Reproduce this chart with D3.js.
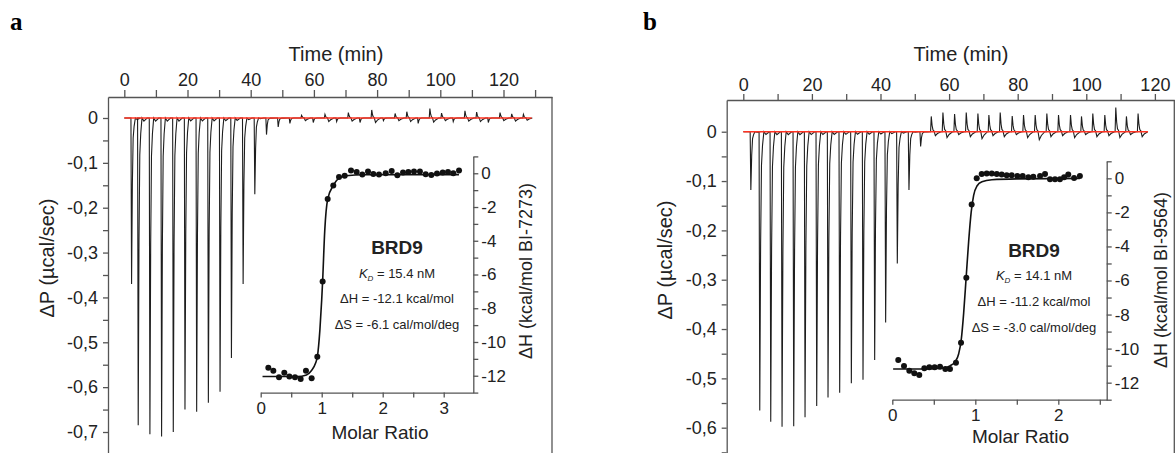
<!DOCTYPE html>
<html lang="en">
<head>
<meta charset="utf-8" />
<title>ITC BRD9</title>
<script src="https://cdn.jsdelivr.net/npm/d3@7"></script>
<style>
  body { margin: 0; background: #fff; }
  svg text { font-family: "Liberation Sans", Arial, sans-serif; fill: #222; }
  .ax path, .ax line { stroke: #555; stroke-width: 1.3; }
</style>
</head>
<body>
<svg width="1176" height="453"></svg>
<script>
// panel a : BI-7273, raw thermogram (injection time in min, peak height and undershoot in ucal/sec)
var timeA = [2.1, 4.2, 7.9, 11.6, 15.3, 19.0, 22.7, 26.4, 30.1, 33.7, 37.4, 41.1, 44.8, 48.5, 52.2, 55.9, 59.6, 63.3,
  67.0, 70.7, 74.4, 78.1, 81.8, 85.5, 89.2, 92.8, 96.5, 100.2, 103.9, 107.6, 111.3, 115.0, 118.7, 122.4, 126.1];
var peakA = [-0.37, -0.685, -0.705, -0.71, -0.70, -0.65, -0.655, -0.635, -0.61, -0.535, -0.37, -0.17, -0.037, -0.02,
  -0.012, 0.006, -0.01, 0.008, -0.008, 0.012, -0.01, 0.018, -0.006, 0.01, 0.014, -0.012, 0.021, 0.011, -0.008,
  0.016, 0.013, -0.01, 0.012, 0.009, 0.008];
var dipA = [0, 0, 0, 0, 0, 0, 0, 0, 0, 0, 0, 0, 0, 0, 0, -0.006, 0, -0.008, 0, -0.007, 0, -0.01, 0, -0.006, -0.008, 0,
  -0.009, -0.006, 0, -0.007, -0.008, 0, -0.006, -0.007, -0.005];
// panel a : integrated heats
var ratioA = [0.125, 0.207, 0.3, 0.387, 0.47, 0.562, 0.655, 0.742, 0.835, 0.928, 1.015, 1.098, 1.19, 1.284, 1.377,
  1.48, 1.573, 1.666, 1.759, 1.846, 1.939, 2.049, 2.147, 2.24, 2.333, 2.42, 2.513, 2.61, 2.705, 2.797, 2.89, 2.984,
  3.07, 3.157, 3.251];
var heatA = [-11.52, -11.7, -12.09, -11.82, -12.05, -12.09, -12.19, -11.7, -12.15, -10.87, -6.42, -1.52, -0.73, -0.22,
  -0.14, 0.16, 0.08, -0.08, 0.1, -0.04, -0.08, 0.0, 0.14, -0.12, 0.04, 0.08, 0.1, 0.1, -0.06, -0.1, -0.02, 0.04,
  0.08, 0.0, 0.16];
var fitRatioA = [0.03, 0.6, 0.75, 0.83, 0.9, 0.93, 0.97, 1.0, 1.015, 1.05, 1.1, 1.19, 1.28, 1.4, 1.7, 3.25];
var fitHeatA = [-12.05, -12.05, -11.95, -11.7, -11.25, -10.85, -9.3, -7.5, -6.4, -3.4, -1.5, -0.73, -0.3, -0.15, -0.09, -0.08];

// panel b : BI-9564
var timeB = [2.0, 4.6, 7.8, 11.1, 14.5, 17.8, 21.2, 24.5, 27.9, 31.3, 34.7, 38.1, 41.3, 44.7, 48.1, 51.5, 54.6, 58.0,
  61.4, 64.8, 68.2, 71.4, 74.7, 78.2, 81.5, 84.9, 88.3, 91.7, 95.2, 98.4, 101.7, 105.2, 108.4, 111.5, 114.9];
var peakB = [-0.118, -0.565, -0.588, -0.598, -0.597, -0.579, -0.556, -0.539, -0.529, -0.51, -0.503, -0.463, -0.387,
  -0.267, -0.118, -0.03, 0.031, 0.039, 0.036, 0.039, 0.037, 0.034, 0.039, 0.032, 0.034, 0.034, 0.037, 0.034, 0.034,
  0.031, 0.037, 0.034, 0.049, 0.031, 0.037];
var dipB = [0, 0, 0, 0, 0, 0, 0, 0, 0, 0, 0, 0, 0, 0, 0, 0, -0.008, -0.012, -0.006, -0.01, -0.014, -0.008, -0.01,
  -0.006, -0.012, -0.016, -0.01, -0.008, -0.012, -0.006, -0.01, -0.008, -0.012, -0.006, -0.01];
var ratioB = [0.072, 0.141, 0.205, 0.265, 0.325, 0.386, 0.446, 0.51, 0.575, 0.639, 0.695, 0.767, 0.828, 0.892, 0.956,
  1.017, 1.077, 1.137, 1.198, 1.258, 1.318, 1.378, 1.438, 1.506, 1.571, 1.639, 1.699, 1.78, 1.84, 1.9, 1.96, 2.02,
  2.07, 2.12, 2.19, 2.26];
var heatB = [-10.67, -11.02, -11.3, -11.45, -11.55, -11.16, -11.1, -11.1, -11.06, -11.2, -11.2, -10.83, -9.65, -5.84,
  -1.53, 0.0, 0.25, 0.29, 0.29, 0.25, 0.22, 0.18, 0.18, 0.14, 0.14, 0.06, 0.1, 0.14, 0.25, -0.06, -0.06, -0.06, 0.06,
  0.22, 0.02, 0.14];
var fitRatioB = [0.01, 0.3, 0.6, 0.7, 0.76, 0.8, 0.83, 0.86, 0.89, 0.92, 0.95, 0.98, 1.02, 1.08, 1.2, 1.5, 2.26];
var fitHeatB = [-11.2, -11.2, -11.15, -11.0, -10.75, -10.3, -9.5, -7.9, -5.8, -3.7, -2.0, -1.0, -0.45, -0.2, -0.08, -0.03, 0];

// ticks
var timeTicksA = [0, 10, 20, 30, 40, 50, 60, 70, 80, 90, 100, 110, 120, 130];
var timeTicksB = [0, 10, 20, 30, 40, 50, 60, 70, 80, 90, 100, 110, 120];
var dpTicksA = [0, -0.05, -0.1, -0.15, -0.2, -0.25, -0.3, -0.35, -0.4, -0.45, -0.5, -0.55, -0.6, -0.65, -0.7, -0.75];
var dpTicksB = [0, -0.05, -0.1, -0.15, -0.2, -0.25, -0.3, -0.35, -0.4, -0.45, -0.5, -0.55, -0.6, -0.65];
var dhTicks = [1, 0, -1, -2, -3, -4, -5, -6, -7, -8, -9, -10, -11, -12, -13];
var ratioTicksA = [0, 0.5, 1, 1.5, 2, 2.5, 3];
var ratioTicksB = [0, 0.5, 1, 1.5, 2, 2.5];

var svg = d3.select("svg");

// shape of one injection: [minutes after injection, share of peak, share of undershoot]
var peakShape = [[0, 0, 0], [0.2, 1, 0], [0.45, 0.4, 0], [0.7, 0.12, 0], [1.0, 0.05, 0], [1.4, 0, 1],
  [2.0, 0.01, 0.5], [3.0, 0, 0]];

function comma(v) {
  return v === 0 ? "0" : d3.format(".1f")(v).replace(".", ",").replace("\u2212", "-");
}
function isTenth(v) { return Math.abs(v * 10 - Math.round(v * 10)) < 1e-6; }

function panel(p) {
  var g = svg.append("g");
  var x = d3.scaleLinear().domain(p.tDom).range([p.left, p.right]);
  var y = d3.scaleLinear().domain(p.pDom).range([p.top, 460]);

  g.append("g").attr("class", "ax").attr("transform", "translate(0," + p.top + ")")
    .call(d3.axisTop(x).tickValues(p.tTicks).tickSize(p.tTick).tickSizeOuter(0).tickPadding(p.tPad)
      .tickFormat(function (d) { return d % 20 === 0 ? d : ""; }))
    .selectAll("text").style("font-size", "18px");

  g.append("g").attr("class", "ax").attr("transform", "translate(" + p.left + ",0)")
    .call(d3.axisLeft(y).tickValues(p.pTicks).tickSize(5).tickSizeOuter(0).tickPadding(p.pPad)
      .tickFormat(function (d) { return isTenth(d) ? comma(d) : ""; }))
    .selectAll("text").style("font-size", "18px");

  g.append("line").attr("x1", p.right).attr("x2", p.right).attr("y1", p.top).attr("y2", 460)
    .attr("stroke", "#555").attr("stroke-width", 1.3);

  // raw trace
  var pts = [[0, 0]];
  p.times.forEach(function (t, i) {
    peakShape.forEach(function (s) { pts.push([t + s[0], s[1] * p.peaks[i] + s[2] * p.dips[i]]); });
  });
  pts.push([p.tEnd, 0]);
  g.append("path").datum(pts)
    .attr("d", d3.line().x(function (d) { return x(d[0]); }).y(function (d) { return y(d[1]); }))
    .attr("fill", "none").attr("stroke", "#1e1e1e").attr("stroke-width", 1.1);

  g.append("line").attr("x1", x(0)).attr("x2", x(p.tEnd)).attr("y1", y(0)).attr("y2", y(0))
    .attr("stroke", "#ff3322").attr("stroke-width", 1.5);

  g.append("text").attr("x", p.labelX).attr("y", 30).text(p.label)
    .style("font-family", "'Liberation Serif', 'Times New Roman', serif").style("font-weight", "bold")
    .style("font-size", "25px").style("fill", "#000");

  g.append("text").attr("x", p.timeTitle[0]).attr("y", p.timeTitle[1]).attr("text-anchor", "middle")
    .style("font-size", "20px").text("Time (min)");

  g.append("text").attr("transform", "translate(" + p.yTitle[0] + "," + p.yTitle[1] + ") rotate(-90)")
    .attr("text-anchor", "middle").attr("dy", "0.35em").style("font-size", "20px").text("\u0394P (\u00b5cal/sec)");

  // inset isotherm
  var ix = d3.scaleLinear().domain(p.rDom).range([p.iLeft, p.iRight]);
  var iy = d3.scaleLinear().domain([1, -13]).range([p.iTop, p.iBottom]);

  g.append("g").attr("class", "ax").attr("transform", "translate(0," + p.iBottom + ")")
    .call(d3.axisBottom(ix).tickValues(p.rTicks).tickSize(5).tickSizeOuter(0).tickPadding(4)
      .tickFormat(function (d) { return Number.isInteger(d) ? String(d) : ""; }))
    .selectAll("text").style("font-size", "17px");

  g.append("g").attr("class", "ax").attr("transform", "translate(" + p.iRight + ",0)")
    .call(d3.axisRight(iy).tickValues(dhTicks).tickSize(5).tickSizeOuter(0).tickPadding(3)
      .tickFormat(function (d) { return (d <= 0 && d % 2 === 0) ? String(d) : ""; }))
    .selectAll("text").style("font-size", "17px");

  var fit = p.fitR.map(function (r, i) { return [r, p.fitH[i]]; });
  g.append("path").datum(fit)
    .attr("d", d3.line().curve(d3.curveMonotoneX)
      .x(function (d) { return ix(d[0]); }).y(function (d) { return iy(d[1]); }))
    .attr("fill", "none").attr("stroke", "#111").attr("stroke-width", 1.6);

  g.selectAll("circle.pt").data(p.ratio).enter().append("circle")
    .attr("cx", function (d) { return ix(d); })
    .attr("cy", function (d, i) { return iy(p.heat[i]); })
    .attr("r", 3).attr("fill", "#111");

  g.append("text").attr("x", (p.iLeft + p.iRight) / 2 + p.molarDx).attr("y", p.molarY).attr("text-anchor", "middle")
    .style("font-size", "19px").text("Molar Ratio");

  g.append("text").attr("transform", "translate(" + p.iTitle[0] + "," + p.iTitle[1] + ") rotate(-90)")
    .attr("text-anchor", "middle").attr("dy", "0.35em").style("font-size", "18px")
    .text("\u0394H (kcal/mol " + p.compound + ")");

  var cx = p.textX;
  g.append("text").attr("x", cx).attr("y", p.textY[0]).attr("text-anchor", "middle")
    .style("font-size", "19px").style("font-weight", "bold").text("BRD9");
  var kd = g.append("text").attr("x", cx).attr("y", p.textY[1]).attr("text-anchor", "middle").style("font-size", "13px");
  kd.append("tspan").style("font-style", "italic").text("K");
  kd.append("tspan").style("font-style", "italic").style("font-size", "8px").attr("dy", 3).text("D");
  kd.append("tspan").attr("dy", -3).text(" = " + p.kd);
  g.append("text").attr("x", cx).attr("y", p.textY[2]).attr("text-anchor", "middle").style("font-size", "13px")
    .text("\u0394H = " + p.dh);
  g.append("text").attr("x", cx).attr("y", p.textY[3]).attr("text-anchor", "middle").style("font-size", "13px")
    .text("\u0394S = " + p.ds);
}

panel({
  label: "a", labelX: 10, compound: "BI-7273",
  left: 108, right: 552, top: 97, tDom: [-5.16, 135.35], pDom: [0.0468, -0.7624],
  tTicks: timeTicksA, tTick: 7, tPad: 4, pTicks: dpTicksA, pPad: 5,
  times: timeA, peaks: peakA, dips: dipA, tEnd: 128.9,
  timeTitle: [336, 61], yTitle: [47, 258],
  iLeft: 260.7, iRight: 473.3, iTop: 156.4, iBottom: 392.6, rDom: [0, 3.485], rTicks: ratioTicksA,
  ratio: ratioA, heat: heatA, fitR: fitRatioA, fitH: fitHeatA,
  molarDx: 13, molarY: 439, iTitle: [526, 271],
  textX: 397, textY: [253.5, 278, 302.5, 329], kd: "15.4 nM", dh: "-12.1 kcal/mol", ds: "-6.1 cal/mol/deg"
});

panel({
  label: "b", labelX: 643, compound: "BI-9564",
  left: 726.7, right: 1174.3, top: 100, tDom: [-4.84, 125.66], pDom: [0.0643, -0.6655],
  tTicks: timeTicksB, tTick: 6, tPad: 3, pTicks: dpTicksB, pPad: 5,
  times: timeB, peaks: peakB, dips: dipB, tEnd: 118,
  timeTitle: [961, 61], yTitle: [665, 260],
  iLeft: 892.3, iRight: 1106.7, iTop: 161.3, iBottom: 399.7, rDom: [0, 2.583], rTicks: ratioTicksB,
  ratio: ratioB, heat: heatB, fitR: fitRatioB, fitH: fitHeatB,
  molarDx: 21, molarY: 443, iTitle: [1161, 280],
  textX: 1034, textY: [257, 280, 306, 331.5], kd: "14.1 nM", dh: "-11.2 kcal/mol", ds: "-3.0 cal/mol/deg"
});
</script>
</body>
</html>
